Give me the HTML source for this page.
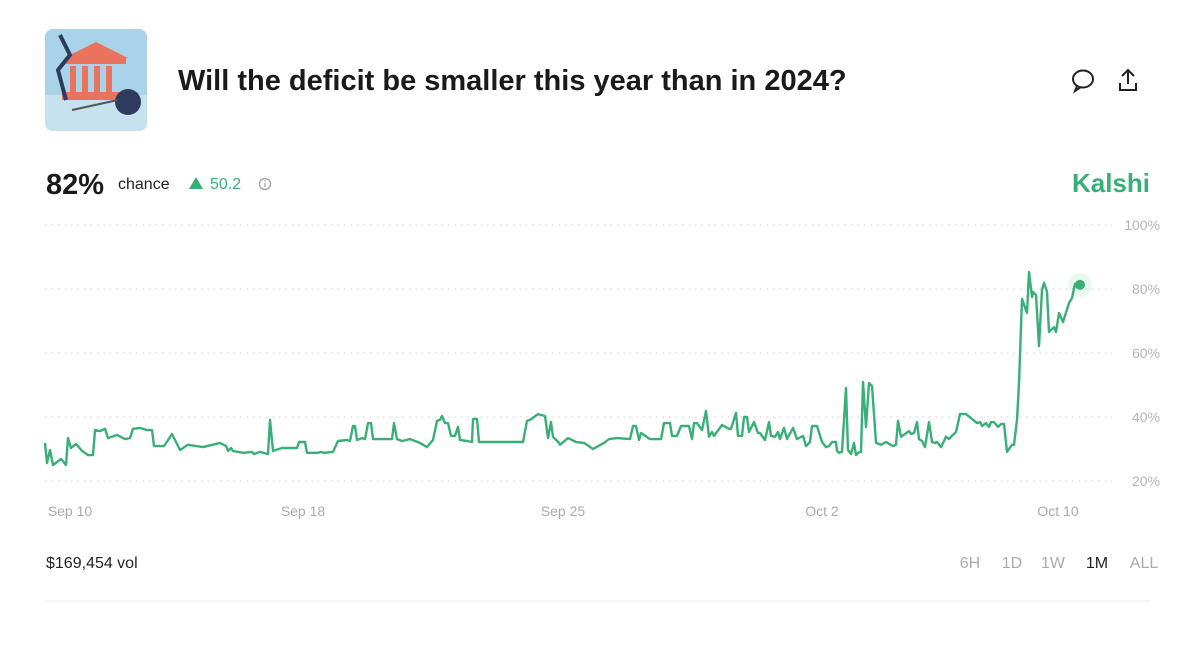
<!DOCTYPE html>
<html><head><meta charset="utf-8"><style>
html,body{margin:0;padding:0;background:#fff;}
body{width:1200px;height:652px;overflow:hidden;font-family:"Liberation Sans",sans-serif;}
</style></head><body>
<svg id="chart" width="1200" height="652" viewBox="0 0 1200 652" xmlns="http://www.w3.org/2000/svg" font-family="Liberation Sans, sans-serif">
  <g>
    <clipPath id="thc"><rect x="45" y="29" width="102" height="102" rx="8"/></clipPath>
    <g clip-path="url(#thc)">
      <rect x="45" y="29" width="102" height="102" fill="#a9d3e8"/>
      <rect x="45" y="95" width="102" height="36" fill="#c6e2ef"/>
      <polygon points="64,58 96,42 128,58" fill="#e9735c"/>
      <rect x="66" y="58" width="60" height="6" fill="#e9735c"/>
      <rect x="70" y="66" width="6" height="26" fill="#e9735c"/>
      <rect x="82" y="66" width="6" height="26" fill="#e9735c"/>
      <rect x="94" y="66" width="6" height="26" fill="#e9735c"/>
      <rect x="106" y="66" width="6" height="26" fill="#e9735c"/>
      <rect x="62" y="92" width="68" height="8" fill="#e9735c"/>
      <polyline points="60,35 70,55 58,70 66,100" fill="none" stroke="#2d3c5c" stroke-width="4"/>
      <circle cx="128" cy="102" r="13" fill="#2d3c5c"/>
      <line x1="72" y1="110" x2="118" y2="100" stroke="#555" stroke-width="2"/>
    </g>
  </g>
  <text x="178" y="90" font-size="29" font-weight="bold" fill="#1a1a1a">Will the deficit be smaller this year than in 2024?</text>
  <g fill="none" stroke="#222" stroke-width="2">
    <ellipse cx="1083" cy="79" rx="10" ry="8.5"/>
    <path d="M1077 86 L1075 91 L1081 87"/>
  </g>
  <g fill="none" stroke="#222" stroke-width="2">
    <path d="M1128 70 L1128 84 M1122 76 L1128 70 L1134 76 M1120 83 L1120 90 L1136 90 L1136 83"/>
  </g>
  <text x="46" y="194" font-size="29" font-weight="bold" fill="#1a1a1a">82%</text>
  <text x="118" y="189" font-size="16" fill="#222">chance</text>
  <polygon points="189,189 196,177 203,189" fill="#3aae78"/>
  <text x="210" y="189" font-size="16" fill="#3aae78">50.2</text>
  <g>
    <circle cx="265" cy="184" r="5.5" fill="none" stroke="#999" stroke-width="1.2"/>
    <line x1="265" y1="183" x2="265" y2="187" stroke="#999" stroke-width="1.2"/>
    <circle cx="265" cy="181" r="0.8" fill="#999"/>
  </g>
  <text x="1150" y="192" text-anchor="end" font-size="26" font-weight="bold" fill="#3aae78">Kalshi</text>
  <g id="plot"></g>
  <text x="46" y="568" font-size="16" fill="#222">$169,454 vol</text>
  <g font-size="16">
    <text x="970" y="568" text-anchor="middle" fill="#aaa">6H</text>
    <text x="1012" y="568" text-anchor="middle" fill="#aaa">1D</text>
    <text x="1053" y="568" text-anchor="middle" fill="#aaa">1W</text>
    <text x="1097" y="568" text-anchor="middle" fill="#222">1M</text>
    <text x="1144" y="568" text-anchor="middle" fill="#aaa">ALL</text>
  </g>
  <line x1="45" y1="601" x2="1150" y2="601" stroke="#eee" stroke-width="1"/>
</svg>
<script>
const times = [0,2,5,8,16,21,23,26,31,37,43,48,50,55,60,63,72,80,85,88,95,102,107,109,119,127,135,143,158,175,181,183,186,188,198,207,209,215,223,225,228,237,252,254,260,262,273,276,279,288,293,302,305,308,310,312,317,320,323,326,328,347,349,352,357,365,375,382,388,392,395,397,400,403,406,410,413,415,422,427,428,432,434,440,478,482,485,493,500,503,506,508,514,
515,523,531,539,548,559,564,572,585,588,591,594,596,605,616,619,625,627,632,636,644,647,649,652,657,661,664,667,669,677,684,686,691,693,697,699,702,704,709,713,715,720,724,726,730,733,735,739,742,748,752,758,761,765,767,772,777,781,784,787,791,792,794,797,801,803,806,809,811,813,816,818,821,824,827,831,836,841,848,851,853,856,864,866,869,872,874,877,880,884,887,890,892,896,901,904,906,911,915,921,932,935,937,941,944,946,949,953,956,959,962,967,969,972,974,977,982,984,987,988,991,994,997,999,1002,1004,1009,1011,1014,1018,1024,1027,1030,1035];
const values = [31.9,25.6,29.7,25.0,26.9,25.0,33.4,30.3,31.6,29.4,28.1,28.1,35.9,35.6,36.3,33.4,34.4,33.1,33.4,36.3,36.6,35.9,35.9,30.9,30.9,34.7,29.7,31.3,30.6,31.9,30.9,29.4,30.3,29.4,28.8,29.1,28.4,29.1,28.4,39.1,29.4,30.3,30.3,32.2,32.2,28.8,28.8,29.1,28.8,29.1,32.5,32.8,32.5,37.2,37.2,32.8,33.4,33.1,38.1,38.1,33.1,33.1,38.1,33.1,32.5,33.1,31.9,30.6,32.8,38.8,39.1,40.3,38.1,38.1,34.1,34.1,36.9,32.8,32.5,32.2,39.4,39.4,32.2,32.2,32.2,38.8,39.1,40.9,40.3,33.4,38.4,33.8,31.9,
31.3,33.4,32.2,31.9,30.0,31.9,33.1,33.4,33.1,37.2,37.2,32.8,35.0,33.1,33.1,38.1,38.1,34.1,34.1,37.2,37.2,33.1,38.1,38.1,35.9,41.9,33.8,35.3,34.1,37.5,36.3,36.3,41.3,34.1,34.1,40.0,40.0,35.3,38.4,35.0,35.0,32.8,38.4,34.1,33.8,35.3,33.1,36.6,33.1,36.6,33.1,34.1,30.9,32.2,37.2,37.2,32.2,30.6,30.9,32.2,32.2,29.4,28.8,29.1,49.1,29.7,28.4,31.9,28.1,28.8,29.1,50.9,36.9,50.6,49.7,31.9,31.3,32.2,30.9,31.3,38.8,33.8,35.6,34.7,35.0,38.4,33.1,32.5,30.6,38.4,32.2,31.9,32.2,30.6,33.8,33.1,33.8,35.3,40.9,40.9,38.1,38.4,37.2,38.1,36.9,38.4,38.4,36.9,37.8,37.8,29.1,31.3,31.3,39.1,50.6,76.9,72.5,85.3,77.5,79.1,78.1,62.2,79.7,81.9,79.1,66.6,68.1,66.6,72.5,69.7,75.6,77.2,81.6,81.3,85.3,81.9];
const yTicks = [20,40,60,80,100];
const yTickLabels = ["20%","40%","60%","80%","100%"];
const xTicks = [25,258,518,777,1013];
const xTickLabels = ["Sep 10","Sep 18","Sep 25","Oct 2","Oct 10"];

const NS = "http://www.w3.org/2000/svg";
const plot = document.getElementById('plot');
const X0 = 45, X1 = 1080, T0 = 0, T1 = 1035;
const Y20 = 481, Y100 = 225;
function xs(t){ return X0 + (t - T0) / (T1 - T0) * (X1 - X0); }
function ys(v){ return Y20 + (v - 20) / 80 * (Y100 - Y20); }
function mk(tag, attrs){ const e = document.createElementNS(NS, tag); for (const k in attrs) e.setAttribute(k, attrs[k]); plot.appendChild(e); return e; }

yTicks.forEach((v, i) => {
  const g = mk('line', {x1: 45, x2: 1112, y1: ys(v), y2: ys(v), stroke: '#d8d8d8', 'stroke-width': 1.2, 'stroke-dasharray': '1.5 5'});
  
  
  const t = mk('text', {x: 1160, y: ys(v) + 5, 'text-anchor': 'end', 'font-size': 14, fill: '#b5b5b5'});
  t.textContent = yTickLabels[i];
  
  
});
xTicks.forEach((tv, i) => {
  const t = mk('text', {x: xs(tv), y: 516, 'text-anchor': 'middle', 'font-size': 14, fill: '#aaa'});
  t.textContent = xTickLabels[i];
  
  
});
const pts = times.map((t, i) => xs(t).toFixed(1) + ',' + ys(values[i]).toFixed(1)).join(' ');
const line = mk('polyline', {points: pts, fill: 'none', stroke: '#3aae78', 'stroke-width': 2.4, 'stroke-linejoin': 'round'});


const last = times.length - 1;
const halo = mk('circle', {cx: xs(times[last]), cy: ys(values[last]), r: 12, fill: '#3aae78', 'fill-opacity': 0.1});


const dot = mk('circle', {cx: xs(times[last]), cy: ys(values[last]), r: 5, fill: '#3aae78'});


</script>
</body></html>
